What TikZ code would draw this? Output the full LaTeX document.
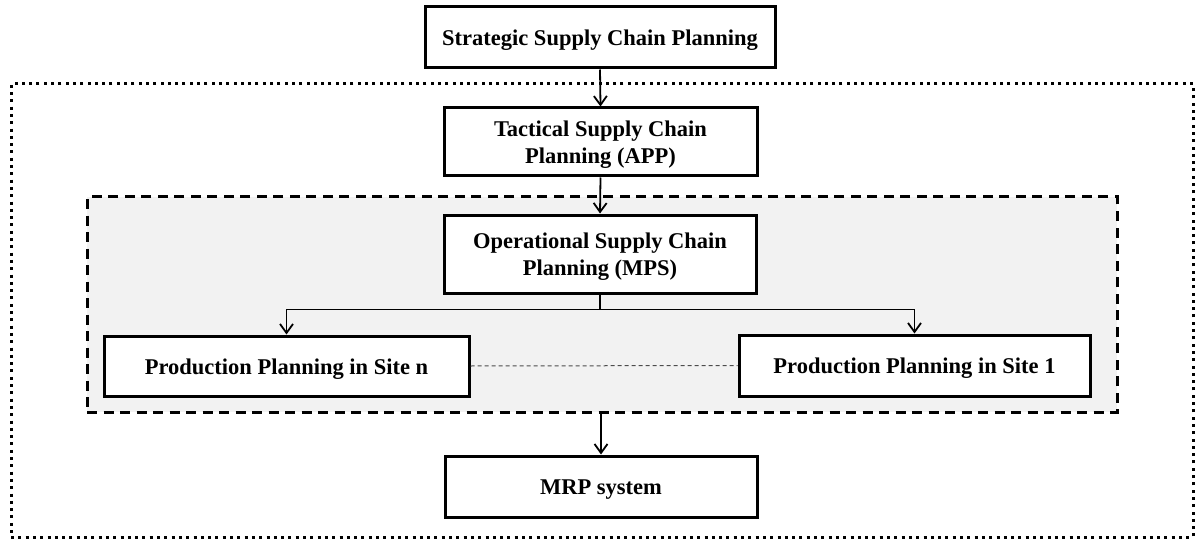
\documentclass[tikz,border=0pt]{standalone}
\usepackage{fontspec}
\setmainfont{Liberation Serif}
\usetikzlibrary{arrows.meta}
% box label: centred lines, set a little below the box centre
\newcommand{\boxlabel}[1]{\raisebox{-3pt}[\height][\depth]{\begin{tabular}{@{}c@{}}#1\end{tabular}}}
\begin{document}
\begin{tikzpicture}[x=1pt,y=-1pt,
  box/.style={draw=black, line width=3pt, fill=white,
    inner sep=0pt, font=\bfseries\fontsize{22.5}{27}\selectfont},
  conn/.style={draw=black, line width=1.8pt},
  arr/.style={conn, -{Straight Barb[length=9pt,width=13pt]}},
  outerframe/.style={draw=black, line width=3pt, dash pattern=on 3pt off 4.3pt,
    inner sep=0pt},
  groupframe/.style={draw=black, fill=black!5, line width=3pt,
    dash pattern=on 10pt off 6.5pt, inner sep=0pt},
  peer/.style={draw=black!70, line width=1pt, dash pattern=on 4pt off 3pt}]
\useasboundingbox (0,0) rectangle (1196,540);

% frames
\node[outerframe, minimum width=1182pt, minimum height=453pt] (outer) at (602,310.5) {};
\node[groupframe, minimum width=1030pt, minimum height=215pt] (grp) at (602,304.5) {};

% planning levels
\node[box, minimum width=350pt, minimum height=61pt] (strat) at (600,37.5) {\boxlabel{Strategic Supply Chain Planning}};
\node[box, minimum width=313pt, minimum height=68pt] (tact) at (600.5,142) {\boxlabel{Tactical Supply Chain\\Planning (APP)}};
\node[box, minimum width=312pt, minimum height=78pt] (oper) at (600,254) {\boxlabel{Operational Supply Chain\\Planning (MPS)}};
\node[box, minimum width=365pt, minimum height=60pt] (siten) at (286.5,366) {\boxlabel{Production Planning in Site n}};
\node[box, minimum width=351pt, minimum height=61pt] (site1) at (914.5,365.5) {\boxlabel{Production Planning in Site 1}};
\node[box, minimum width=312pt, minimum height=61pt] (mrp) at (601,486.5) {\boxlabel{MRP system}};

% connectors
\draw[arr] (strat.south) -- (tact.north);
\draw[arr] (tact.south) -- (oper.north);
\draw[conn] (oper.south) -- ++(0,15) coordinate (br);
\draw[arr] (br) -| (siten.north);
\draw[arr] (br) -| (site1.north);
\draw[peer] (siten.east) -- (site1.west);
\draw[arr] (grp.south -| mrp.north) -- (mrp.north);
\end{tikzpicture}
\end{document}
